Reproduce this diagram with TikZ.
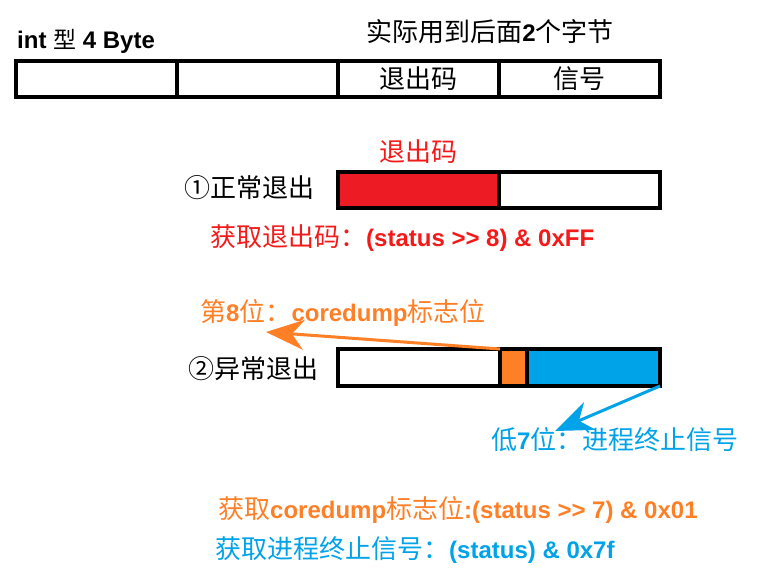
\documentclass[tikz,border=0pt]{standalone}
\usepackage{fontspec}
\setmainfont{Liberation Sans}
\newfontfamily\cjk{Noto Sans CJK SC}
\usetikzlibrary{arrows.meta}
\usetikzlibrary{positioning}

\definecolor{exitred}{HTML}{ED1C24}
\definecolor{redtext}{HTML}{F41A1A}
\definecolor{coreorange}{HTML}{FF7F27}
\definecolor{sigblue}{HTML}{00A2E8}

\newcommand\zh[1]{{\cjk\mdseries\fontsize{26}{30}\selectfont #1}}
\newcommand\en[1]{{\bfseries\fontsize{24}{28}\selectfont #1}}

\begin{document}
\begin{tikzpicture}[
    x=1pt, y=-1pt,
    cell/.style={
      draw, line width=4.5pt, minimum height=36pt, inner sep=0pt, outer sep=0pt
    },
    txt/.style={
      inner sep=0pt
    },
    arrowtip/.style={
      line width=3pt, -{Stealth[length=38pt,width=30pt,inset=12pt]}
    }
  ]
    \useasboundingbox (0,0) rectangle (764,582);

    \coordinate (AA) at ( 96.5, 79);
    \coordinate (AB) at (257.5, 79);
    \coordinate (AC) at (418.5, 79);
    \coordinate (AD) at (579.5, 79);
    \coordinate (BA) at (418.5,190);
    \coordinate (BB) at (579.5,190);
    \coordinate (CA) at (419  ,367.5);
    \coordinate (CB) at (513.5,367.5);
    \coordinate (CC) at (593.5,367.5);
    \coordinate (DA) at (266,332);
    \coordinate (DB) at (555,431);

    \node[cell,minimum width=161pt] (AAT) at (AA) {};
    \node[cell,minimum width=161pt] (ABT) at (AB) {};
    \node[cell,minimum width=161pt] (ACT) at (AC) {\zh{退出码}};
    \node[cell,minimum width=161pt] (ADT) at (AD) {\zh{信号}};
    \node[txt,anchor=west] (AAL) at (17,41)
      {\bfseries\fontsize{24}{26}\selectfont int {\cjk\mdseries\fontsize{23}{26}\selectfont 型} 4 Byte};
    \node[txt] (ACL) at (490,32) {\zh{实际用到后面}\en{2}\zh{个字节}};

    \node[cell,minimum width=161pt,fill=exitred] (BAT) at (BA) {};
    \node[cell,minimum width=161pt]              (BBT) at (BB) {};
    \node[txt,text=redtext,above=8pt of BAT] (BAL) {\zh{退出码}};
    \node[txt] (BAN) at (249,188) {\zh{①正常退出}};
    \node[txt,anchor=west,text=redtext] (BAF) at (210,238)
      {\zh{获取退出码：}\en{(status >{}> 8) \& 0xFF}};

    \node[cell,minimum width=162pt,minimum height=37pt]                  (CAT) at (CA) {};
    \node[cell,minimum width=27pt,minimum height=37pt,fill=coreorange]   (CBT) at (CB) {};
    \node[cell,minimum width=133pt,minimum height=37pt,fill=sigblue]     (CCT) at (CC) {};
    \node[txt] (CAN) at (253,369) {\zh{②异常退出}};
    \node[txt,anchor=west,text=coreorange] (CBL) at (200,313)
      {\zh{第}\en{8}\zh{位：}\en{coredump}\zh{标志位}};
    \node[txt,anchor=west,text=sigblue] (CCL) at (491,440)
      {\zh{低}\en{7}\zh{位：进程终止信号}};

    \draw[arrowtip,coreorange] (CAT.north east) -- (DA);
    \draw[arrowtip,sigblue]    (CCT.south east) -- (DB);

    \node[txt,anchor=west,text=coreorange] (CBF) at (218,510)
      {\zh{获取}\en{coredump}\zh{标志位}\en{:(status >{}> 7) \& 0x01}};
    \node[txt,anchor=west,text=sigblue] (CCF) at (215,550)
      {\zh{获取进程终止信号：}\en{(status) \& 0x7f}};
  \end{tikzpicture}
\end{document}
